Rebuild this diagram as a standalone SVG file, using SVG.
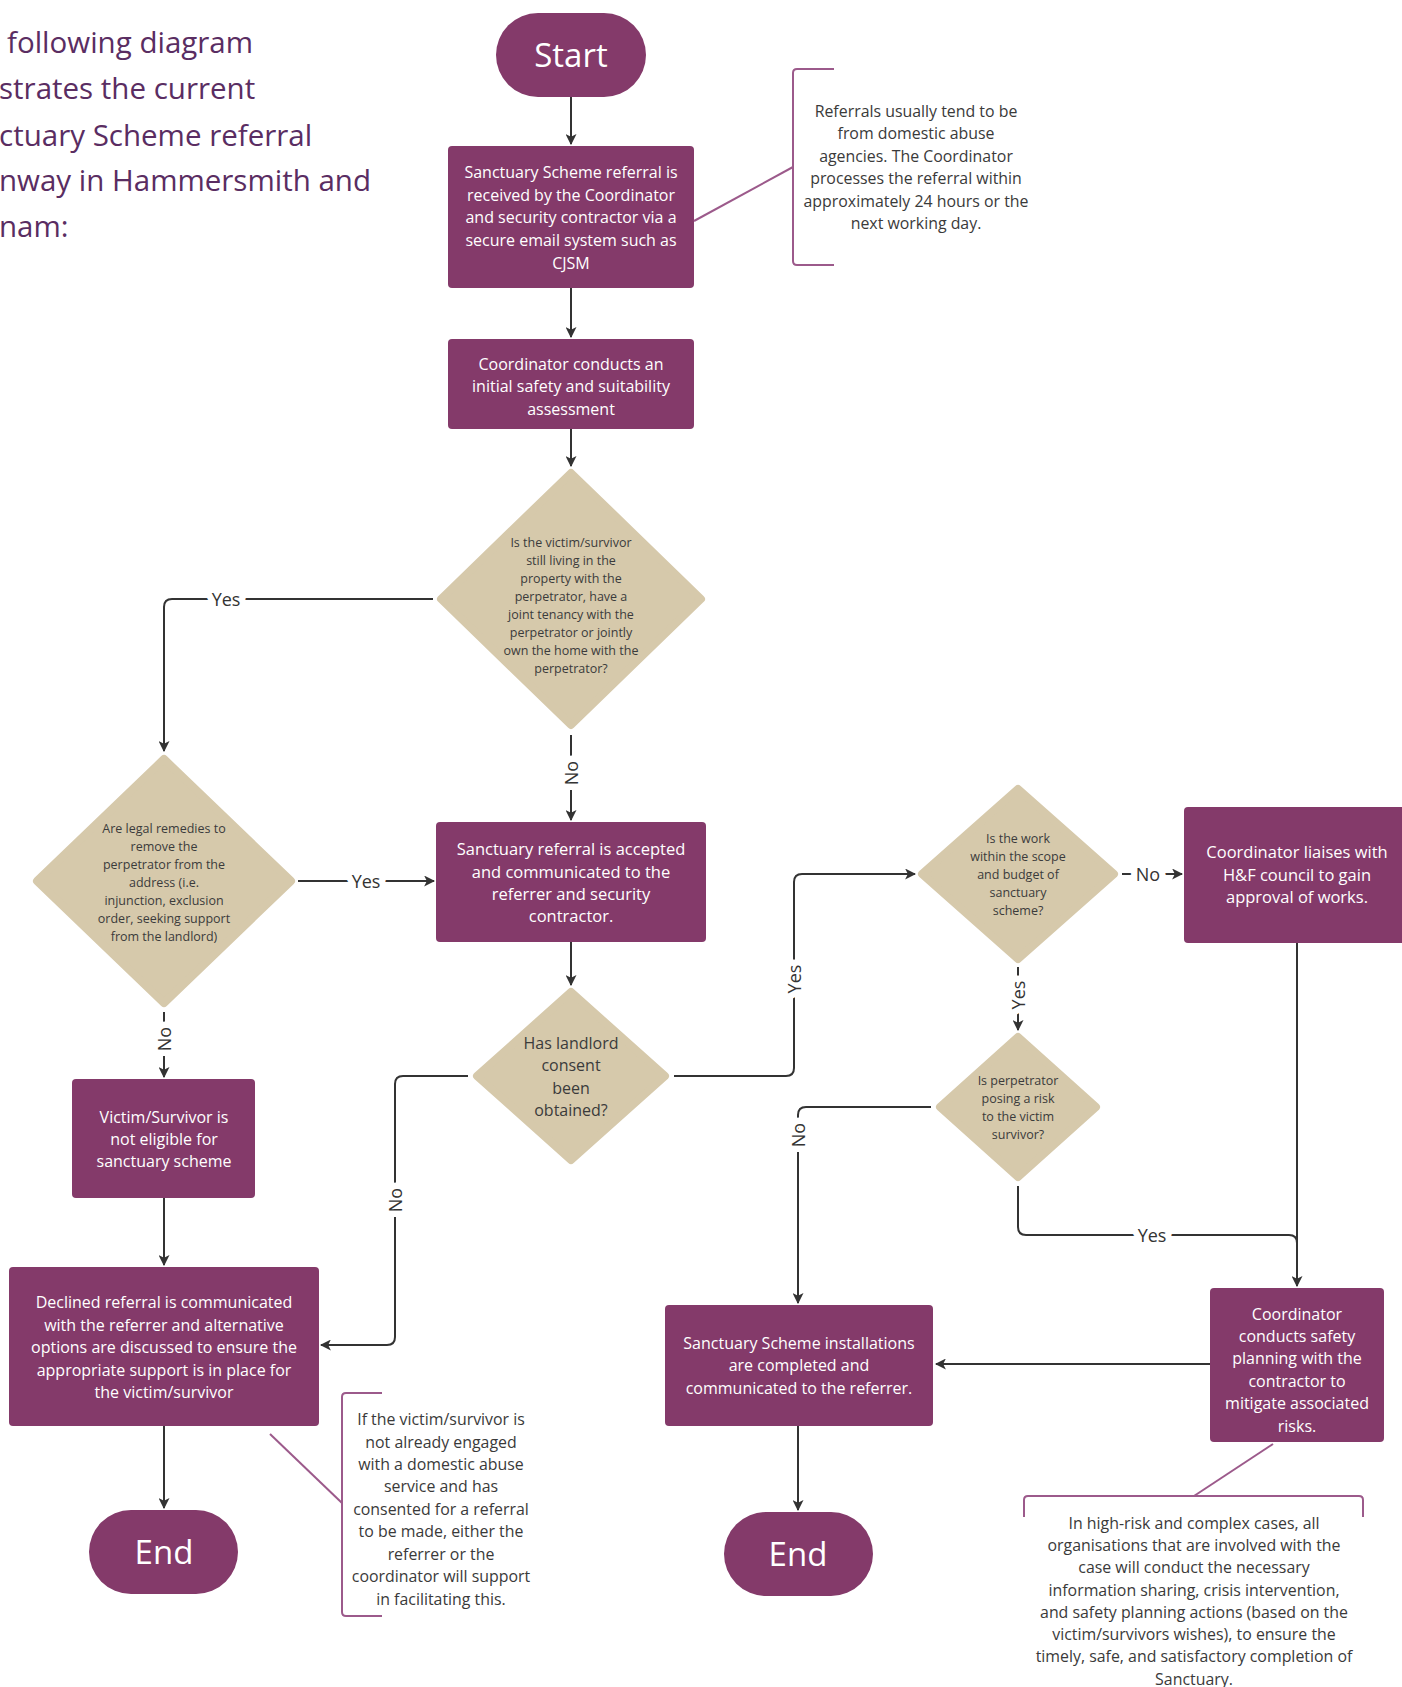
<svg xmlns="http://www.w3.org/2000/svg" width="1402" height="1687" viewBox="0 0 1402 1687">
<style>
.box{fill:#843a6a;}
.dia{fill:#d6c9ab;stroke:#d6c9ab;stroke-width:8;stroke-linejoin:round;}
.bt{font-family:"Open Sans","Noto Sans",sans-serif;font-size:16px;fill:#ffffff;text-anchor:middle;}
.big{font-family:"Open Sans","Noto Sans",sans-serif;font-size:33px;fill:#ffffff;text-anchor:middle;}
.dt{font-family:"Open Sans","Noto Sans",sans-serif;font-size:12.5px;fill:#3b3b3b;text-anchor:middle;}
.dt3{font-family:"Open Sans","Noto Sans",sans-serif;font-size:16px;fill:#3b3b3b;text-anchor:middle;}
.nt{font-family:"Open Sans","Noto Sans",sans-serif;font-size:15.9px;fill:#3a3a3a;text-anchor:middle;}
.ln{fill:none;stroke:#333333;stroke-width:2;}
.br{fill:none;stroke:#9c5a8b;stroke-width:2;}
.lb{font-family:"Open Sans","Noto Sans",sans-serif;font-size:18px;fill:#333333;text-anchor:middle;stroke:#ffffff;stroke-width:13;paint-order:stroke;stroke-linejoin:round;}
.title{font-family:"Open Sans","Noto Sans",sans-serif;font-size:29.5px;fill:#5a2d62;}
</style>
<defs>
<marker id="ar" viewBox="0 0 10 10" refX="9" refY="5" markerWidth="11" markerHeight="11" markerUnits="userSpaceOnUse" orient="auto">
<path d="M0,0 L10,5 L0,10 L2.5,5 z" fill="#333333"/>
</marker>
</defs>
<rect width="1402" height="1687" fill="#ffffff"/>

<g id="title">
<text class="title" x="7" y="53">following diagram</text>
<text class="title" x="-1" y="99">strates the current</text>
<text class="title" x="-1" y="146">ctuary Scheme referral</text>
<text class="title" x="-1" y="191">nway in Hammersmith and</text>
<text class="title" x="-1" y="237">nam:</text>
</g>

<g id="connectors">
<path class="ln" d="M571,97 V144" marker-end="url(#ar)"/>
<path class="ln" d="M571,288 V337" marker-end="url(#ar)"/>
<path class="ln" d="M571,429 V466" marker-end="url(#ar)"/>
<path class="ln" d="M433,599 H172 Q164,599 164,607 V751" marker-end="url(#ar)"/>
<path class="ln" d="M571,735 V820" marker-end="url(#ar)"/>
<path class="ln" d="M298,881 H434" marker-end="url(#ar)"/>
<path class="ln" d="M571,942 V985" marker-end="url(#ar)"/>
<path class="ln" d="M164,1012 V1077" marker-end="url(#ar)"/>
<path class="ln" d="M164,1198 V1265" marker-end="url(#ar)"/>
<path class="ln" d="M164,1426 V1508" marker-end="url(#ar)"/>
<path class="ln" d="M468,1076 H403 Q395,1076 395,1084 V1337 Q395,1345 387,1345 H321" marker-end="url(#ar)"/>
<path class="ln" d="M674,1076 H786 Q794,1076 794,1068 V882 Q794,874 802,874 H915" marker-end="url(#ar)"/>
<path class="ln" d="M1122,874 H1182" marker-end="url(#ar)"/>
<path class="ln" d="M1018,967 V1030" marker-end="url(#ar)"/>
<path class="ln" d="M931,1107 H806 Q798,1107 798,1115 V1303" marker-end="url(#ar)"/>
<path class="ln" d="M1018,1186 V1227 Q1018,1235 1026,1235 H1289 Q1297,1235 1297,1243"/>
<path class="ln" d="M1297,943 V1286" marker-end="url(#ar)"/>
<path class="ln" d="M1210,1364 H936" marker-end="url(#ar)"/>
<path class="ln" d="M798,1426 V1510" marker-end="url(#ar)"/>
<text class="lb" x="226" y="606">Yes</text>
<text class="lb" x="366" y="888">Yes</text>
<text class="lb" transform="translate(578,773) rotate(-90)">No</text>
<text class="lb" transform="translate(171,1039) rotate(-90)">No</text>
<text class="lb" transform="translate(402,1200) rotate(-90)">No</text>
<text class="lb" transform="translate(801,979) rotate(-90)">Yes</text>
<text class="lb" x="1148" y="881">No</text>
<text class="lb" transform="translate(1025,995) rotate(-90)">Yes</text>
<text class="lb" transform="translate(805,1135) rotate(-90)">No</text>
<text class="lb" x="1152" y="1242">Yes</text>
</g>

<g id="start">
<rect class="box" x="496" y="13" width="150" height="84" rx="42"/>
<text class="big" x="571" y="67">Start</text>
</g>

<g id="received">
<rect class="box" x="448" y="146" width="246" height="142" rx="4"/>
<text class="bt" x="571" y="178">Sanctuary Scheme referral is</text>
<text class="bt" x="571" y="201">received by the Coordinator</text>
<text class="bt" x="571" y="223">and security contractor via a</text>
<text class="bt" x="571" y="246">secure email system such as</text>
<text class="bt" x="571" y="269">CJSM</text>
</g>

<g id="assessment">
<rect class="box" x="448" y="339" width="246" height="90" rx="4"/>
<text class="bt" x="571" y="370">Coordinator conducts an</text>
<text class="bt" x="571" y="392">initial safety and suitability</text>
<text class="bt" x="571" y="415">assessment</text>
</g>

<g id="q-living">
<polygon class="dia" points="571,473 701,599 571,725 441,599"/>
<text class="dt" x="571" y="547">Is the victim/survivor</text>
<text class="dt" x="571" y="565">still living in the</text>
<text class="dt" x="571" y="583">property with the</text>
<text class="dt" x="571" y="601">perpetrator, have a</text>
<text class="dt" x="571" y="619">joint tenancy with the</text>
<text class="dt" x="571" y="637">perpetrator or jointly</text>
<text class="dt" x="571" y="655">own the home with the</text>
<text class="dt" x="571" y="673">perpetrator?</text>
</g>

<g id="q-legal">
<polygon class="dia" points="164,759 291,881 164,1003 37,881"/>
<text class="dt" x="164" y="833">Are legal remedies to</text>
<text class="dt" x="164" y="851">remove the</text>
<text class="dt" x="164" y="869">perpetrator from the</text>
<text class="dt" x="164" y="887">address (i.e.</text>
<text class="dt" x="164" y="905">injunction, exclusion</text>
<text class="dt" x="164" y="923">order, seeking support</text>
<text class="dt" x="164" y="941">from the landlord)</text>
</g>

<g id="accepted">
<rect class="box" x="436" y="822" width="270" height="120" rx="4"/>
<text class="bt" x="571" y="855" style="font-size:16.5px">Sanctuary referral is accepted</text>
<text class="bt" x="571" y="878" style="font-size:16.5px">and communicated to the</text>
<text class="bt" x="571" y="900" style="font-size:16.5px">referrer and security</text>
<text class="bt" x="571" y="922" style="font-size:16.5px">contractor.</text>
</g>

<g id="q-landlord">
<polygon class="dia" points="571,992 665,1076 571,1160 477,1076"/>
<text class="dt3" x="571" y="1049">Has landlord</text>
<text class="dt3" x="571" y="1071">consent</text>
<text class="dt3" x="571" y="1094">been</text>
<text class="dt3" x="571" y="1116">obtained?</text>
</g>

<g id="not-eligible">
<rect class="box" x="72" y="1079" width="183" height="119" rx="4"/>
<text class="bt" x="164" y="1123">Victim/Survivor is</text>
<text class="bt" x="164" y="1145">not eligible for</text>
<text class="bt" x="164" y="1167">sanctuary scheme</text>
</g>

<g id="declined">
<rect class="box" x="9" y="1267" width="310" height="159" rx="4"/>
<text class="bt" x="164" y="1308">Declined referral is communicated</text>
<text class="bt" x="164" y="1331">with the referrer and alternative</text>
<text class="bt" x="164" y="1353">options are discussed to ensure the</text>
<text class="bt" x="164" y="1376">appropriate support is in place for</text>
<text class="bt" x="164" y="1398">the victim/survivor</text>
</g>

<g id="end1">
<rect class="box" x="89" y="1510" width="149" height="84" rx="42"/>
<text class="big" x="164" y="1564">End</text>
</g>

<g id="q-scope">
<polygon class="dia" points="1018,789 1114,874 1018,959 922,874"/>
<text class="dt" x="1018" y="843">Is the work</text>
<text class="dt" x="1018" y="861">within the scope</text>
<text class="dt" x="1018" y="879">and budget of</text>
<text class="dt" x="1018" y="897">sanctuary</text>
<text class="dt" x="1018" y="915">scheme?</text>
</g>

<g id="liaise">
<rect class="box" x="1184" y="807" width="230" height="136" rx="4"/>
<text class="bt" x="1297" y="858" style="font-size:16.5px">Coordinator liaises with</text>
<text class="bt" x="1297" y="881" style="font-size:16.5px">H&amp;F council to gain</text>
<text class="bt" x="1297" y="903" style="font-size:16.5px">approval of works.</text>
</g>

<g id="q-risk">
<polygon class="dia" points="1018,1037 1096,1107 1018,1177 940,1107"/>
<text class="dt" x="1018" y="1085">Is perpetrator</text>
<text class="dt" x="1018" y="1103">posing a risk</text>
<text class="dt" x="1018" y="1121">to the victim</text>
<text class="dt" x="1018" y="1139">survivor?</text>
</g>

<g id="safety-planning">
<rect class="box" x="1210" y="1288" width="174" height="154" rx="4"/>
<text class="bt" x="1297" y="1320">Coordinator</text>
<text class="bt" x="1297" y="1342">conducts safety</text>
<text class="bt" x="1297" y="1364">planning with the</text>
<text class="bt" x="1297" y="1387">contractor to</text>
<text class="bt" x="1297" y="1409">mitigate associated</text>
<text class="bt" x="1297" y="1432">risks.</text>
</g>

<g id="installations">
<rect class="box" x="665" y="1305" width="268" height="121" rx="4"/>
<text class="bt" x="799" y="1349">Sanctuary Scheme installations</text>
<text class="bt" x="799" y="1371">are completed and</text>
<text class="bt" x="799" y="1394">communicated to the referrer.</text>
</g>

<g id="end2">
<rect class="box" x="724" y="1512" width="149" height="84" rx="42"/>
<text class="big" x="798" y="1566">End</text>
</g>

<g id="note-referrals">
<path class="br" d="M694,221 L793,167"/>
<path class="br" d="M834,69 H797 Q793,69 793,73 V261 Q793,265 797,265 H834"/>
<text class="nt" x="916" y="117">Referrals usually tend to be</text>
<text class="nt" x="916" y="139">from domestic abuse</text>
<text class="nt" x="916" y="162">agencies. The Coordinator</text>
<text class="nt" x="916" y="184">processes the referral within</text>
<text class="nt" x="916" y="207">approximately 24 hours or the</text>
<text class="nt" x="916" y="229">next working day.</text>
</g>

<g id="note-declined">
<path class="br" d="M270,1434 L342,1503"/>
<path class="br" d="M382,1393 H346 Q342,1393 342,1397 V1612 Q342,1616 346,1616 H382"/>
<text class="nt" x="441" y="1425">If the victim/survivor is</text>
<text class="nt" x="441" y="1448">not already engaged</text>
<text class="nt" x="441" y="1470">with a domestic abuse</text>
<text class="nt" x="441" y="1492">service and has</text>
<text class="nt" x="441" y="1515">consented for a referral</text>
<text class="nt" x="441" y="1537">to be made, either the</text>
<text class="nt" x="441" y="1560">referrer or the</text>
<text class="nt" x="441" y="1582">coordinator will support</text>
<text class="nt" x="441" y="1605">in facilitating this.</text>
</g>

<g id="note-highrisk">
<path class="br" d="M1273,1444 L1194,1496"/>
<path class="br" d="M1024,1517 V1500 Q1024,1496 1028,1496 H1359 Q1363,1496 1363,1500 V1517"/>
<text class="nt" x="1194" y="1529">In high-risk and complex cases, all</text>
<text class="nt" x="1194" y="1551">organisations that are involved with the</text>
<text class="nt" x="1194" y="1573">case will conduct the necessary</text>
<text class="nt" x="1194" y="1596">information sharing, crisis intervention,</text>
<text class="nt" x="1194" y="1618">and safety planning actions (based on the</text>
<text class="nt" x="1194" y="1640">victim/survivors wishes), to ensure the</text>
<text class="nt" x="1194" y="1662">timely, safe, and satisfactory completion of</text>
<text class="nt" x="1194" y="1685">Sanctuary.</text>
</g>
</svg>
